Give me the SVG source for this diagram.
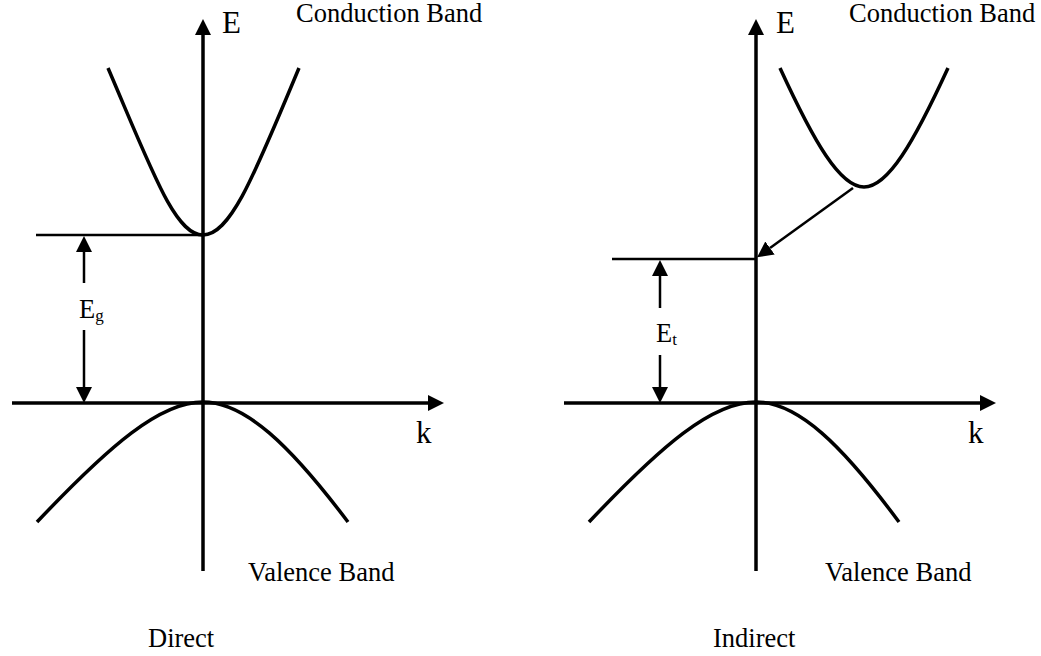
<svg xmlns="http://www.w3.org/2000/svg" width="1041" height="656" viewBox="0 0 1041 656">
  <style>
    text { font-family: "Liberation Serif", "Times New Roman", serif; fill: #000; }
    .lbl { font-size: 26.5px; }
    .big { font-size: 31px; }
    .sub { font-size: 17px; }
    .axis { stroke: #000; stroke-width: 3.5; fill: none; }
    .band { stroke: #000; stroke-width: 3.5; fill: none; }
    .thin { stroke: #000; stroke-width: 2.5; fill: none; }
  </style>
  <defs>
    <marker id="ah" markerUnits="userSpaceOnUse" markerWidth="17" markerHeight="17" refX="0" refY="8" orient="auto" viewBox="0 0 17 16">
      <path d="M0,0 L16,8 L0,16 z" fill="#000"/>
    </marker>
  </defs>
  <rect width="1041" height="656" fill="#fff"/>

  <g id="direct">
    <g id="direct-axes">
      <line class="axis" x1="203" y1="571" x2="203" y2="35" marker-end="url(#ah)"/>
      <line class="axis" x1="12" y1="403" x2="428" y2="403" marker-end="url(#ah)"/>
    </g>
    <g id="direct-conduction">
      <path class="band" d="M108,68 C153,173 175,235 203,235 C231,235 255,173 299,68"/>
    </g>
    <g id="direct-valence">
      <path class="band" d="M37,522 C110,445 160,402 203,402 C245,402 290,445 348,522"/>
    </g>
    <g id="direct-gap">
      <line class="thin" x1="36" y1="235" x2="203" y2="235"/>
      <line class="thin" x1="84" y1="283" x2="84" y2="252" marker-end="url(#ah)"/>
      <line class="thin" x1="84" y1="330" x2="84" y2="387" marker-end="url(#ah)"/>
      <text class="lbl" x="79" y="318">E<tspan class="sub" dy="3">g</tspan></text>
    </g>
    <g id="direct-labels">
      <text class="big" x="222" y="33">E</text>
      <text class="lbl" x="296" y="22">Conduction Band</text>
      <text class="big" x="416" y="443">k</text>
      <text class="lbl" x="248" y="581">Valence Band</text>
      <text class="lbl" x="148" y="647">Direct</text>
    </g>
  </g>

  <g id="indirect">
    <g id="indirect-axes">
      <line class="axis" x1="756" y1="571" x2="756" y2="35" marker-end="url(#ah)"/>
      <line class="axis" x1="564" y1="403" x2="980" y2="403" marker-end="url(#ah)"/>
    </g>
    <g id="indirect-conduction">
      <path class="band" d="M780,68 C814,142 840,187 864,187 C888,187 914,142 948,68"/>
    </g>
    <g id="indirect-valence">
      <path class="band" d="M589,522 C662,445 712,402 756,402 C798,402 842,445 899,522"/>
    </g>
    <g id="indirect-gap">
      <line class="thin" x1="612" y1="259" x2="756" y2="259"/>
      <line class="thin" x1="660" y1="308" x2="660" y2="276" marker-end="url(#ah)"/>
      <line class="thin" x1="660" y1="355" x2="660" y2="387" marker-end="url(#ah)"/>
      <text class="lbl" x="656" y="342">E<tspan class="sub" dy="3">t</tspan></text>
    </g>
    <g id="connectors">
      <line class="thin" x1="853" y1="188" x2="770" y2="248" marker-end="url(#ah)"/>
    </g>
    <g id="indirect-labels">
      <text class="big" x="776" y="33">E</text>
      <text class="lbl" x="849" y="22">Conduction Band</text>
      <text class="big" x="968" y="443">k</text>
      <text class="lbl" x="825" y="581">Valence Band</text>
      <text class="lbl" x="713" y="647">Indirect</text>
    </g>
  </g>
</svg>
